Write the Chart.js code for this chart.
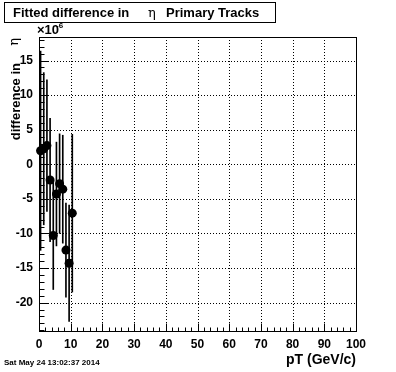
<!DOCTYPE html>
<html>
<head>
<meta charset="utf-8">
<script src="https://cdn.jsdelivr.net/npm/chart.js@4.4.0/dist/chart.umd.min.js"></script>
<style>
html, body { margin: 0; padding: 0; background: #fff; }
canvas { display: block; }
</style>
</head>
<body>
<canvas id="etaDiffChart" width="396" height="372"></canvas>
<script>
// pT bin centres (GeV/c), fitted eta difference (x1e-6) and its error
const ptBins = [0.5, 1.5, 2.5, 3.5, 4.5, 5.5, 6.5, 7.5, 8.5, 9.5, 10.5];
const etaDiff = [1.96, 2.25, 2.7, -2.27, -10.3, -4.3, -2.8, -3.6, -12.4, -14.3, -7.07];
const etaErr = [14.4, 11.0, 9.5, 8.9, 7.8, 7.5, 7.2, 7.8, 6.8, 8.4, 11.4];

const xTicks = [0, 10, 20, 30, 40, 50, 60, 70, 80, 90, 100];
const yTicks = [-20, -15, -10, -5, 0, 5, 10, 15];

const labelFont = '"Liberation Sans", Arial, sans-serif';

function rootFramePlugin() {
	return {
		id: 'rootFrame',
		beforeDatasetsDraw(chart) {
			const { ctx, chartArea: { left, right, top, bottom }, scales: { x, y } } = chart;
			ctx.save();
			ctx.strokeStyle = '#000';
			ctx.lineWidth = 1;
			ctx.setLineDash([1, 2]);
			// dotted grid at major ticks
			xTicks.forEach(v => {
				if (v <= x.min || v >= x.max) return;
				const px = Math.round(x.getPixelForValue(v)) + 0.5;
				ctx.beginPath();
				ctx.moveTo(px, top);
				ctx.lineTo(px, bottom);
				ctx.stroke();
			});
			yTicks.forEach(v => {
				const py = Math.round(y.getPixelForValue(v)) + 0.5;
				ctx.beginPath();
				ctx.moveTo(left, py);
				ctx.lineTo(right, py);
				ctx.stroke();
			});
			ctx.restore();
		},
		afterDatasetsDraw(chart) {
			const { ctx, chartArea: { left, right, top, bottom }, scales: { x, y } } = chart;
			ctx.save();
			ctx.strokeStyle = '#000';
			ctx.lineWidth = 1;
			const l = Math.round(left) + 0.5, r = Math.round(right) + 0.5;
			const t = Math.round(top) + 0.5, b = Math.round(bottom) + 0.5;
			ctx.strokeRect(l, t, r - l, b - t);

			// ticks inside the frame, ROOT style
			ctx.beginPath();
			for (let v = 0; v <= 100; v += 2) {
				const px = Math.round(x.getPixelForValue(v)) + 0.5;
				const len = v % 10 === 0 ? 8 : 4;
				ctx.moveTo(px, b);
				ctx.lineTo(px, b - len);
			}
			for (let v = Math.ceil(y.min); v <= Math.floor(y.max); v++) {
				const py = Math.round(y.getPixelForValue(v)) + 0.5;
				const len = v % 5 === 0 ? 9 : 5;
				ctx.moveTo(l, py);
				ctx.lineTo(l + len, py);
			}
			ctx.stroke();
			ctx.restore();
		},
		afterDraw(chart) {
			const { ctx } = chart;
			ctx.save();
			ctx.fillStyle = '#000';
			ctx.strokeStyle = '#000';
			ctx.lineWidth = 1;
			ctx.textBaseline = 'alphabetic';

			// title box
			ctx.fillStyle = '#fff';
			ctx.fillRect(4.5, 2.5, 271, 20);
			ctx.strokeRect(4.5, 2.5, 271, 20);
			ctx.fillStyle = '#000';
			ctx.textAlign = 'left';
			ctx.font = 'bold 13px ' + labelFont;
			ctx.fillText('Fitted difference in', 13, 17);
			ctx.font = '13px "DejaVu Serif", serif';
			ctx.fillText('\u03B7', 148, 17);
			ctx.font = 'bold 13px ' + labelFont;
			ctx.fillText('Primary Tracks', 166, 17);

			// exponent label
			ctx.font = 'bold 13px ' + labelFont;
			ctx.fillText('\u00D710', 37, 34);
			ctx.font = 'bold 8px ' + labelFont;
			ctx.fillText('-6', 56, 28);

			// y title
			ctx.save();
			ctx.translate(20, 0);
			ctx.rotate(-Math.PI / 2);
			ctx.textAlign = 'right';
			ctx.font = '13px "DejaVu Serif", serif';
			ctx.fillText('\u03B7', -38, -2);
			ctx.font = 'bold 13px ' + labelFont;
			ctx.fillText('difference in', -63, 0);
			ctx.restore();

			// x title
			ctx.textAlign = 'right';
			ctx.font = 'bold 14px ' + labelFont;
			ctx.fillText('pT (GeV/c)', 356, 364);

			// date stamp
			ctx.textAlign = 'left';
			ctx.font = 'bold 8px ' + labelFont;
			ctx.fillText('Sat May 24 13:02:37 2014', 4, 365);
			ctx.restore();
		}
	};
}

function etaDiffChartConfig() {
	const canvas = document.getElementById('etaDiffChart');
	if (!canvas) return;
	const ctx = canvas.getContext('2d');

	new Chart(ctx, {
		type: 'scatter',
		data: {
			datasets: [{
				type: 'scatter',
				label: 'eta difference',
				data: ptBins.map((pt, i) => ({ x: pt, y: etaDiff[i] })),
				pointRadius: 4.5,
				pointBackgroundColor: '#000',
				pointBorderWidth: 0,
				clip: false
			},
			{
				type: 'bar',
				label: 'error',
				data: ptBins.map((pt, i) => ({ x: pt, y: [etaDiff[i] - etaErr[i], etaDiff[i] + etaErr[i]] })),
				backgroundColor: '#000',
				borderWidth: 0,
				barThickness: 1,
				grouped: false,
				clip: false
			}]
		},
		options: {
			responsive: false,
			animation: false,
			devicePixelRatio: 1,
			layout: {
				padding: { left: 0, top: 37, right: 40, bottom: 0 }
			},
			plugins: {
				legend: { display: false },
				tooltip: { enabled: false }
			},
			scales: {
				x: {
					type: 'linear',
					min: 0,
					max: 100,
					offset: false,
					grid: { display: false, drawTicks: false, offset: false },
					border: { display: false },
					afterBuildTicks: scale => { scale.ticks = xTicks.map(v => ({ value: v })); },
					afterFit: scale => { scale.height = 41; },
					ticks: {
						color: '#000',
						padding: 6,
						maxRotation: 0,
						autoSkip: false,
						font: { size: 12, weight: 'bold', family: labelFont }
					}
				},
				y: {
					type: 'linear',
					min: -24.1,
					max: 18.4,
					grid: { display: false, drawTicks: false },
					border: { display: false },
					afterBuildTicks: scale => { scale.ticks = yTicks.map(v => ({ value: v })); },
					afterFit: scale => { scale.width = 39; },
					ticks: {
						color: '#000',
						padding: 6,
						autoSkip: false,
						font: { size: 12, weight: 'bold', family: labelFont }
					}
				}
			}
		},
		plugins: [rootFramePlugin()]
	});
}
document.addEventListener('DOMContentLoaded', etaDiffChartConfig);
</script>
</body>
</html>
